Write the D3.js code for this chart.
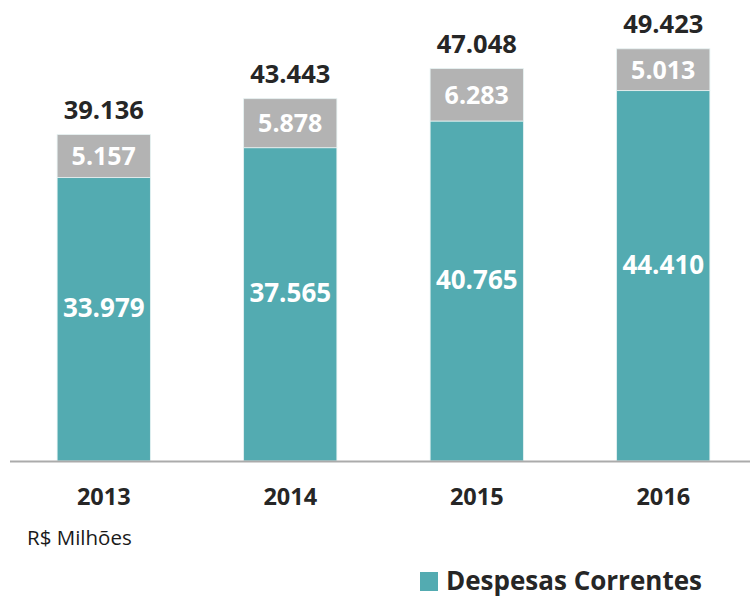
<!DOCTYPE html>
<html>
<head>
<meta charset="utf-8">
<script src="https://cdn.jsdelivr.net/npm/d3@7"></script>
<style>
  body { margin: 0; background: #fff; }
  svg { display: block; font-family: "Open Sans", sans-serif; }
</style>
</head>
<body>
<div class="canva"></div>
<script>
// values in R$ millions
var years = ["2013", "2014", "2015", "2016"];
var correntes = [33979, 37565, 40765, 44410];
var outras = [5157, 5878, 6283, 5013];
var totals = [39136, 43443, 47048, 49423];

var legendLabel = "Despesas Correntes";
var unitLabel = "R$ Milhões";

var fmt = d3.formatLocale({ decimal: ",", thousands: ".", grouping: [3], currency: ["R$", ""] }).format(",d");

const svg = d3.select(".canva").append("svg")
    .attr("width", 750)
    .attr("height", 598);

// table for the stack
var rows = years.map((y, i) => ({ year: y, correntes: correntes[i], outras: outras[i] }));
var series = d3.stack().keys(["correntes", "outras"])(rows);

var x = d3.scaleBand()
    .domain(years)
    .range([10.5, 756.5])
    .paddingInner(0.5)
    .paddingOuter(0.25);

var y = d3.scaleLinear()
    .domain([0, 50000])
    .range([461, 44]);

var colors = { correntes: "#53abb1", outras: "#b3b3b3" };

var layers = svg.selectAll(".layer")
    .data(series)
    .enter()
    .append("g")
    .attr("class", "layer")
    .attr("fill", d => colors[d.key]);

layers.selectAll("rect")
    .data(d => d)
    .enter()
    .append("rect")
    .attr("x", d => x(d.data.year))
    .attr("width", x.bandwidth())
    .attr("y", d => y(d[1]))
    .attr("height", d => y(d[0]) - y(d[1]))
    .attr("stroke", "#e6f2f2")
    .attr("stroke-width", 0.8);

// labels inside the bars
layers.selectAll("text")
    .data(d => d.map(v => ({ key: d.key, v: v })))
    .enter()
    .append("text")
    .attr("x", d => x(d.v.data.year) + x.bandwidth() / 2)
    .attr("y", d => {
        var mid = (y(d.v[0]) + y(d.v[1])) / 2;
        return d.key == "correntes" ? mid - 2 : mid + 9;
    })
    .attr("text-anchor", "middle")
    .attr("fill", "#fff")
    .style("font-weight", "bold")
    .style("font-size", d => d.key == "correntes" ? "26px" : "25px")
    .text(d => fmt(d.v[1] - d.v[0]));

// totals above
svg.selectAll(".total")
    .data(totals)
    .enter()
    .append("text")
    .attr("class", "total")
    .attr("x", (d, i) => x(years[i]) + x.bandwidth() / 2)
    .attr("y", d => y(d) - 16)
    .attr("text-anchor", "middle")
    .attr("fill", "#262626")
    .style("font-weight", "bold")
    .style("font-size", "25.5px")
    .text(d => fmt(d));

// baseline
svg.append("line")
    .attr("x1", 10)
    .attr("x2", 750)
    .attr("y1", y(0) + 0.5)
    .attr("y2", y(0) + 0.5)
    .attr("stroke", "#ababab")
    .attr("stroke-width", 2);

var xAxis = d3.axisBottom(x).tickSize(0).tickPadding(0);
var gx = svg.append("g")
    .attr("transform", "translate(0, 505)")
    .call(xAxis);
gx.select(".domain").remove();
gx.selectAll("text")
    .attr("dy", 0)
    .attr("fill", "#262626")
    .style("font-family", "Open Sans, sans-serif")
    .style("font-weight", "bold")
    .style("font-size", "23.5px");

svg.append("text")
    .attr("x", 27)
    .attr("y", 545)
    .attr("fill", "#1a1a1a")
    .style("font-size", "20.5px")
    .text(unitLabel);

// legend
svg.append("rect")
    .attr("x", 420)
    .attr("y", 572)
    .attr("width", 18)
    .attr("height", 19)
    .attr("fill", colors.correntes);

svg.append("text")
    .attr("x", 446)
    .attr("y", 590)
    .attr("fill", "#262626")
    .style("font-weight", "bold")
    .style("font-size", "26px")
    .text(legendLabel);
</script>
</body>
</html>
